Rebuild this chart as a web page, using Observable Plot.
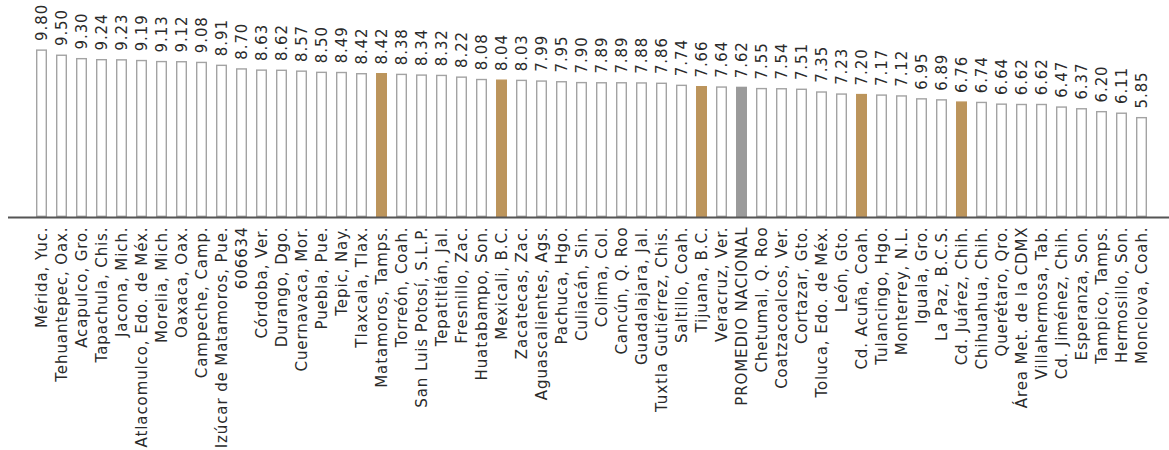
<!DOCTYPE html>
<html>
<head>
<meta charset="utf-8">
<script src="https://cdn.jsdelivr.net/npm/d3@7"></script>
<script src="https://cdn.jsdelivr.net/npm/@observablehq/plot@0.6"></script>
<style>
  html, body { margin: 0; padding: 0; background: #fff; }
  #chart { width: 1169px; height: 450px; }
  #chart svg text { letter-spacing: 0.9px; }
</style>
</head>
<body>
<div id="chart"></div>
<script>
const cities = [
  "Mérida, Yuc.", "Tehuantepec, Oax.", "Acapulco, Gro.", "Tapachula, Chis.", "Jacona, Mich.",
  "Atlacomulco, Edo. de Méx.", "Morelia, Mich.", "Oaxaca, Oax.", "Campeche, Camp.", "Izúcar de Matamoros, Pue.",
  "606634", "Córdoba, Ver.", "Durango, Dgo.", "Cuernavaca, Mor.", "Puebla, Pue.",
  "Tepic, Nay.", "Tlaxcala, Tlax.", "Matamoros, Tamps.", "Torreón, Coah.", "San Luis Potosí, S.L.P.",
  "Tepatitlán, Jal.", "Fresnillo, Zac.", "Huatabampo, Son.", "Mexicali, B.C.", "Zacatecas, Zac.",
  "Aguascalientes, Ags.", "Pachuca, Hgo.", "Culiacán, Sin.", "Colima, Col.", "Cancún, Q. Roo",
  "Guadalajara, Jal.", "Tuxtla Gutiérrez, Chis.", "Saltillo, Coah.", "Tijuana, B.C.", "Veracruz, Ver.",
  "PROMEDIO NACIONAL", "Chetumal, Q. Roo", "Coatzacoalcos, Ver.", "Cortazar, Gto.", "Toluca, Edo. de Méx.",
  "León, Gto.", "Cd. Acuña, Coah.", "Tulancingo, Hgo.", "Monterrey, N.L.", "Iguala, Gro.",
  "La Paz, B.C.S.", "Cd. Juárez, Chih.", "Chihuahua, Chih.", "Querétaro, Qro.", "Área Met. de la CDMX",
  "Villahermosa, Tab.", "Cd. Jiménez, Chih.", "Esperanza, Son.", "Tampico, Tamps.", "Hermosillo, Son.",
  "Monclova, Coah."
];
const values = [
  9.80, 9.50, 9.30, 9.24, 9.23,
  9.19, 9.13, 9.12, 9.08, 8.91,
  8.70, 8.63, 8.62, 8.57, 8.50,
  8.49, 8.42, 8.42, 8.38, 8.34,
  8.32, 8.22, 8.08, 8.04, 8.03,
  7.99, 7.95, 7.90, 7.89, 7.89,
  7.88, 7.86, 7.74, 7.66, 7.64,
  7.62, 7.55, 7.54, 7.51, 7.35,
  7.23, 7.20, 7.17, 7.12, 6.95,
  6.89, 6.76, 6.74, 6.64, 6.62,
  6.62, 6.47, 6.37, 6.20, 6.11,
  5.85
];
const highlighted = ["Matamoros, Tamps.", "Mexicali, B.C.", "Tijuana, B.C.", "Cd. Acuña, Coah.", "Cd. Juárez, Chih."];
const nationalAverage = ["PROMEDIO NACIONAL"];

const data = cities.map((c, i) => ({
  city: c,
  value: values[i],
  kind: nationalAverage.includes(c) ? "avg" : highlighted.includes(c) ? "hl" : "normal"
}));

const fillFor = k => k === "avg" ? "#9b9b9b" : k === "hl" ? "#bc955c" : "#ffffff";
const strokeFor = k => k === "avg" ? "#9b9b9b" : k === "hl" ? "#bc955c" : "#a3a3a3";
const fmt = d3.format(".2f");
const font = "DejaVu Sans, sans-serif";

const chart = Plot.plot({
  width: 1169,
  height: 450,
  marginTop: 46,
  marginBottom: 233,
  marginLeft: 8,
  marginRight: 0,
  style: { fontFamily: font, fontSize: "15px", color: "#2a2a2a", background: "#fff" },
  x: {
    domain: cities,
    range: [30.25, 1152.8],
    paddingInner: 0.45,
    paddingOuter: 0,
    label: null
  },
  y: { domain: [0, 10], axis: null },
  marks: [
    Plot.barY(data, {
      x: "city", y: "value",
      fill: d => fillFor(d.kind),
      stroke: d => strokeFor(d.kind),
      strokeWidth: 1.4,
      inset: 0.7
    }),
    Plot.ruleY([0], { stroke: "#555", strokeWidth: 2 }),
    Plot.text(data, {
      x: "city", y: "value",
      text: d => fmt(d.value),
      rotate: -90,
      textAnchor: "start",
      dy: -9,
      fill: "#2a2a2a",
      fontSize: 15
    }),
    Plot.axisX({
      tickRotate: -90,
      tickSize: 0,
      tickPadding: 9,
      fontSize: 15,
      fill: "#2a2a2a",
      label: null
    })
  ]
});
document.getElementById("chart").appendChild(chart);
</script>
</body>
</html>
